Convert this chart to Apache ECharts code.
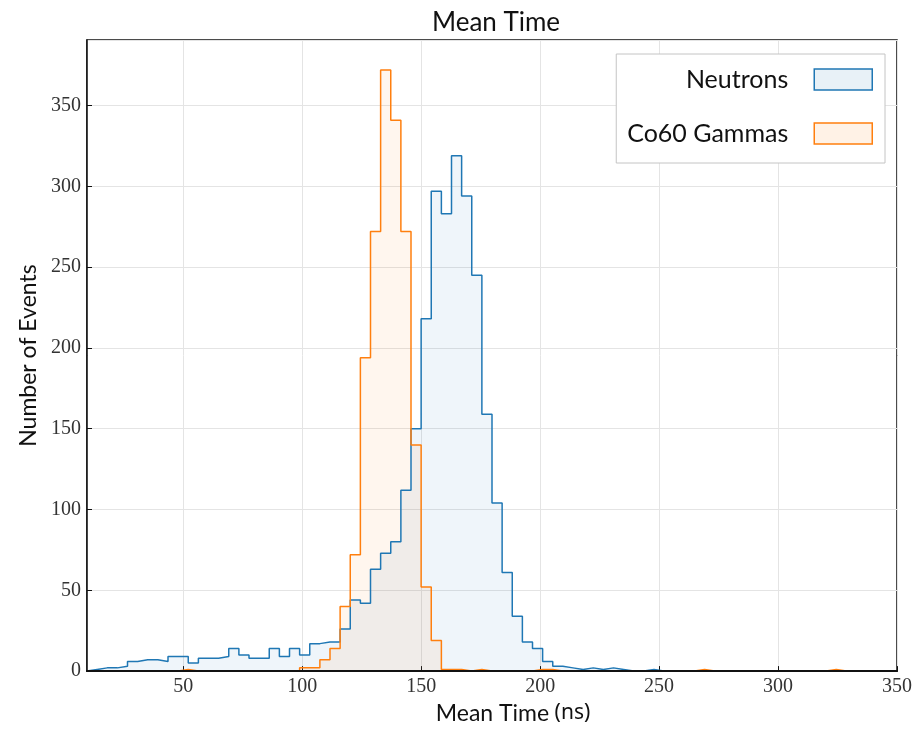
<!DOCTYPE html>
<html>
<head>
<meta charset="utf-8">
<script src="https://cdn.jsdelivr.net/npm/echarts@6/dist/echarts.min.js"></script>
<style>
  html, body { margin: 0; padding: 0; background: #fff; }
  #chart { width: 915px; height: 730px; }
</style>
</head>
<body>
<div id="chart"></div>
<script>
// histogram: 80 equal bins between binStart and binEnd
const binStart = 9.5;
const binEnd = 350;
const binCount = 80;

// counts per bin
const neutronCounts = [
  1, 2, 2, 3, 6, 7, 7, 6, 9, 9,
  5, 8, 8, 9, 14, 10, 8, 8, 14, 9,
  14, 10, 17, 18, 18, 26, 44, 42, 63, 73,
  80, 112, 150, 218, 297, 283, 319, 294, 245, 159,
  104, 61, 34, 18, 14, 6, 3, 2, 1, 2,
  1, 2, 1, 0, 0, 1, 0, 0, 0, 0,
  0, 0, 0, 0, 0, 0, 0, 0, 0, 0,
  0, 0, 0, 0, 0, 0, 0, 0, 0, 0
];
const gammaCounts = [
  0, 0, 0, 0, 0, 0, 0, 0, 0, 1,
  0, 0, 0, 0, 0, 0, 0, 0, 0, 0,
  0, 2, 2, 7, 14, 40, 72, 194, 272, 372,
  341, 272, 140, 52, 19, 1, 1, 0, 1, 0,
  0, 0, 0, 0, 1, 1, 0, 0, 0, 0,
  0, 0, 0, 0, 0, 0, 0, 0, 0, 0,
  1, 0, 0, 0, 0, 0, 0, 0, 0, 0,
  0, 0, 0, 1, 0, 0, 0, 0, 0, 0
];

const seriesNames = ['Neutrons', 'Co60 Gammas'];
const yMax = 390.6;

const binWidth = (binEnd - binStart) / binCount;

// turn bin counts into step points (left edge, count), closed at both ends
function stepPoints(counts) {
  const pts = [[binStart, 0]];
  counts.forEach((c, i) => pts.push([binStart + i * binWidth, c]));
  pts.push([binEnd, counts[counts.length - 1]]);
  pts.push([binEnd, 0]);
  return pts;
}

const sansFont = 'Lato';
const serifFont = 'Liberation Serif';

function histSeries(name, counts, color, fill) {
  return {
    name: name,
    type: 'line',
    step: 'end',
    symbol: 'none',
    data: stepPoints(counts),
    lineStyle: { color: color, width: 1.5 },
    itemStyle: { color: color },
    areaStyle: { color: fill, origin: 0 },
    emphasis: { disabled: true }
  };
}

const chart = echarts.init(document.getElementById('chart'));

chart.setOption({
  animation: false,
  backgroundColor: '#fff',
  title: {
    text: 'Mean Time',
    left: 491,
    textAlign: 'center',
    top: 5,
    textStyle: { fontFamily: sansFont, fontSize: 26, fontWeight: 'normal', color: '#111' }
  },
  legend: {
    orient: 'vertical',
    align: 'right',
    right: 30,
    top: 54,
    padding: [13, 12, 17, 11],
    itemWidth: 58,
    itemHeight: 21,
    itemGap: 29,
    backgroundColor: '#fff',
    borderColor: '#c4c4c4',
    borderWidth: 1,
    textStyle: {
      fontFamily: sansFont, fontSize: 25, color: '#111',
      lineHeight: 21, padding: [0, 21, 0, 0]
    },
    data: [
      { name: seriesNames[0], icon: 'rect',
        itemStyle: { color: 'rgba(31,119,180,0.1)', borderColor: '#1f77b4', borderWidth: 1.5 } },
      { name: seriesNames[1], icon: 'rect',
        itemStyle: { color: 'rgba(255,127,14,0.1)', borderColor: '#ff7f0e', borderWidth: 1.5 } }
    ]
  },
  grid: {
    left: 87, right: 16, top: 40, bottom: 57.5,
    show: true, borderColor: '#111', borderWidth: 1.5
  },
  xAxis: [{
    type: 'value',
    min: binStart,
    max: binEnd,
    splitNumber: 7,
    name: '{a|Mean Time}{b| (ns)}',
    nameLocation: 'middle',
    nameGap: 24,
    nameTextStyle: {
      padding: [0, 0, 0, 42],
      rich: {
        a: { fontFamily: sansFont, fontSize: 23, color: '#111' },
        b: { fontFamily: 'Noto Sans', fontSize: 21, color: '#111' }
      }
    },
    axisLine: { show: true, lineStyle: { color: '#111', width: 1.5 } },
    axisTick: { inside: true, length: 5, lineStyle: { color: '#111' } },
    axisLabel: {
      showMinLabel: false,
      margin: 6,
      fontFamily: serifFont, fontSize: 20, color: '#333'
    },
    splitLine: { show: true, lineStyle: { color: '#e4e4e4', width: 1 } }
  }, {
    // bottom spine drawn over the series so zero-height steps stay hidden
    type: 'value',
    position: 'bottom',
    min: binStart,
    max: binEnd,
    z: 10,
    axisLine: { show: true, lineStyle: { color: '#111', width: 2 } },
    axisTick: { show: false },
    axisLabel: { show: false },
    splitLine: { show: false }
  }],
  yAxis: {
    type: 'value',
    min: 0,
    max: yMax,
    interval: 50,
    name: 'Number of Events',
    nameLocation: 'middle',
    nameGap: 46,
    nameTextStyle: { fontFamily: sansFont, fontSize: 23, color: '#111' },
    axisLine: { show: true, lineStyle: { color: '#111', width: 1.5 } },
    axisTick: { inside: true, length: 5, lineStyle: { color: '#111' } },
    axisLabel: {
      showMaxLabel: false,
      margin: 6,
      fontFamily: serifFont, fontSize: 20, color: '#333'
    },
    splitLine: { show: true, lineStyle: { color: '#e4e4e4', width: 1 } }
  },
  series: [
    histSeries(seriesNames[0], neutronCounts, '#1f77b4', 'rgba(31,119,180,0.1)'),
    histSeries(seriesNames[1], gammaCounts, '#ff7f0e', 'rgba(255,127,14,0.1)')
  ]
});
</script>
</body>
</html>
